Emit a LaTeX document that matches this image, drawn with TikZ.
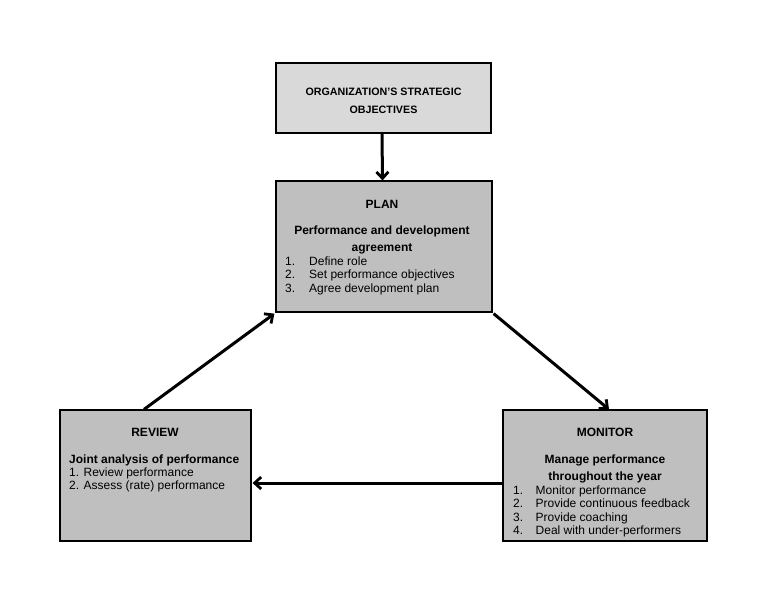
\documentclass[tikz,border=0pt]{standalone}
\usepackage{fontspec}
\setmainfont{Liberation Sans}
\usetikzlibrary{arrows.meta}
\definecolor{orgfill}{RGB}{217,217,217}
\definecolor{boxfill}{RGB}{191,191,191}
\begin{document}
\begin{tikzpicture}[x=1pt,y=-1pt,
  box/.style={draw=black,line width=1.2pt,inner sep=0pt},
  arr/.style={line width=3pt,-{Straight Barb[length=6.5pt,width=12pt,line width=2.8pt]}},
  head/.style={font=\fontsize{12}{14}\selectfont\bfseries,anchor=base,inner sep=0pt},
  orgtxt/.style={font=\fontsize{10.7}{12}\selectfont\bfseries,anchor=base,inner sep=0pt},
  item/.style={font=\fontsize{12}{14}\selectfont,anchor=base west,inner sep=0pt}]
\useasboundingbox[fill=white] (0,0) rectangle (770,590);
% boxes
\node[box,fill=orgfill,minimum width=215pt,minimum height=70pt] (org) at (383.5,98) {};
\node[box,fill=boxfill,minimum width=216pt,minimum height=131pt] (plan) at (384,246.5) {};
\node[box,fill=boxfill,minimum width=191pt,minimum height=131pt] (review) at (155.5,475.5) {};
\node[box,fill=boxfill,minimum width=204pt,minimum height=131pt] (monitor) at (605,475.5) {};
% org text
\node[orgtxt] (o1) at (383.5,95) {ORGANIZATION’S STRATEGIC};
\node[orgtxt] (o2) at (383.5,113) {OBJECTIVES};
% plan text
\node[head] (p0) at (382,208) {PLAN};
\node[head] (p1) at (382,234) {Performance and development};
\node[head] (p2) at (382,251) {agreement};
\node[item] (pn1) at (285,265.5) {1.};
\node[item] (pt1) at (309,265.5) {Define role};
\node[item] (pn2) at (285,278.5) {2.};
\node[item] (pt2) at (309,278.5) {Set performance objectives};
\node[item] (pn3) at (285,292) {3.};
\node[item] (pt3) at (309,292) {Agree development plan};
% review text
\node[head] (r0) at (155,436.5) {REVIEW};
\node[head,anchor=base west] (r1) at (69,463) {Joint analysis of performance};
\node[item] (r2) at (69,476) {1. Review performance};
\node[item] (r3) at (69,489.5) {2. Assess (rate) performance};
% monitor text
\node[head] (m0) at (605,436.5) {MONITOR};
\node[head] (m1) at (605,463) {Manage performance};
\node[head] (m2) at (605,480) {throughout the year};
\node[item] (mn1) at (513,494) {1.};
\node[item] (mt1) at (535.5,494) {Monitor performance};
\node[item] (mn2) at (513,507.5) {2.};
\node[item] (mt2) at (535.5,507.5) {Provide continuous feedback};
\node[item] (mn3) at (513,521) {3.};
\node[item] (mt3) at (535.5,521) {Provide coaching};
\node[item] (mn4) at (513,534.5) {4.};
\node[item] (mt4) at (535.5,534.5) {Deal with under-performers};
% arrows
\draw[arr] ([xshift=-1.5pt]org.south) -- ([xshift=-1.5pt]plan.north);
\draw[arr] ([xshift=-11.5pt]review.north) -- ([xshift=-1pt,yshift=-1pt]plan.south west);
\draw[arr] ([xshift=1pt,yshift=-1pt]plan.south east) -- ([xshift=4pt]monitor.north);
\draw[arr] ([yshift=-7.5pt]monitor.west) -- ([yshift=-7.5pt,xshift=1pt]review.east);
\end{tikzpicture}
\end{document}
